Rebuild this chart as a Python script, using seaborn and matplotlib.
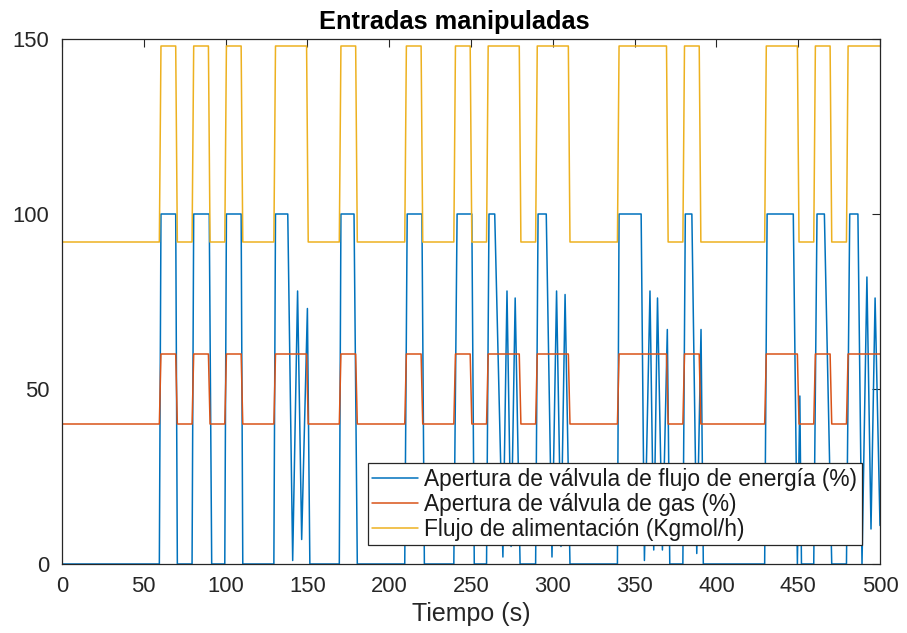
import matplotlib
matplotlib.use("Agg")
import matplotlib.pyplot as plt
import seaborn as sns

# Feed flow and gas valve: step profile (time in s)
tiempo_escalon = [0, 59.5, 60.5, 69.5, 70.5,
                  79.5, 80.5, 89.5, 90.5,
                  99.5, 100.5, 109.5, 110.5,
                  129.5, 130.5, 149.5, 150.5,
                  169.5, 170.5, 179.5, 180.5,
                  209.5, 210.5, 219.5, 220.5,
                  239.5, 240.5, 249.5, 250.5,
                  259.5, 260.5, 279.5, 280.5,
                  289.5, 290.5, 309.5, 310.5,
                  339.5, 340.5, 369.5, 370.5,
                  379.5, 380.5, 389.5, 390.5,
                  429.5, 430.5, 449.5, 450.5,
                  459.5, 460.5, 469.5, 470.5,
                  479.5, 480.5, 500]
flujo_alimentacion = [92, 92, 148, 148, 92,
                      92, 148, 148, 92,
                      92, 148, 148, 92,
                      92, 148, 148, 92,
                      92, 148, 148, 92,
                      92, 148, 148, 92,
                      92, 148, 148, 92,
                      92, 148, 148, 92,
                      92, 148, 148, 92,
                      92, 148, 148, 92,
                      92, 148, 148, 92,
                      92, 148, 148, 92,
                      92, 148, 148, 92,
                      92, 148, 148]
valvula_gas = [40, 40, 60, 60, 40,
               40, 60, 60, 40,
               40, 60, 60, 40,
               40, 60, 60, 40,
               40, 60, 60, 40,
               40, 60, 60, 40,
               40, 60, 60, 40,
               40, 60, 60, 40,
               40, 60, 60, 40,
               40, 60, 60, 40,
               40, 60, 60, 40,
               40, 60, 60, 40,
               40, 60, 60, 40,
               40, 60, 60]

# Energy-flow valve opening (saturated controller output)
tiempo_energia = [0, 59.5, 60.5, 69.5, 70.5,
                  79.5, 80.5, 90, 91.5,
                  99.5, 100.5, 109.5, 110.5,
                  129.5, 130.5, 138, 141, 144, 146.5, 150, 151.5,
                  169.5, 170.5, 178.5, 180.5,
                  209.5, 211, 220, 221.5,
                  239.5, 241.5, 250.5, 252,
                  259.5, 261, 264.5, 269.5, 272, 274.5, 277, 280,
                  289.5, 291, 296, 299.5, 302.3, 305, 307.5, 310.5,
                  339.5, 340.5, 354, 356, 359.4, 361.7, 364, 367, 370, 371.5,
                  379.5, 381, 385, 388, 390.6, 392,
                  429.5, 431, 447, 449.5, 451, 452,
                  459.5, 461.5, 466, 470.5,
                  479.5, 481.5, 486.5, 489, 492, 494.5, 497, 500]
apertura_energia = [0, 0, 100, 100, 0,
                    0, 100, 100, 0,
                    0, 100, 100, 0,
                    0, 100, 100, 1, 78, 7, 73, 0,
                    0, 100, 100, 0,
                    0, 100, 100, 0,
                    0, 100, 100, 0,
                    0, 100, 100, 2, 78, 5, 76, 0,
                    0, 100, 100, 2, 78, 5, 77, 0,
                    0, 100, 100, 1, 78, 4, 76, 4, 67, 0,
                    0, 100, 100, 3, 67, 0,
                    0, 100, 100, 0, 48, 0,
                    0, 100, 100, 0,
                    0, 100, 100, 0, 82, 10, 76, 11]

etiquetas = ["Apertura de válvula de flujo de energía (%)",
             "Apertura de válvula de gas (%)",
             "Flujo de alimentación (Kgmol/h)"]
colores = ["#0072BD", "#D95319", "#EDB120"]

sns.set_theme(style="white")
plt.rcParams["font.family"] = ["Liberation Sans", "DejaVu Sans"]

fig = plt.figure(figsize=(9.07, 6.33), dpi=100)
ax = fig.add_axes([62 / 907, 1 - 564 / 633, 818 / 907, 525 / 633])

sns.lineplot(x=tiempo_energia, y=apertura_energia, ax=ax, estimator=None,
             sort=False, color=colores[0], lw=1.1, label=etiquetas[0])
sns.lineplot(x=tiempo_escalon, y=valvula_gas, ax=ax, estimator=None,
             sort=False, color=colores[1], lw=1.1, label=etiquetas[1])
sns.lineplot(x=tiempo_escalon, y=flujo_alimentacion, ax=ax, estimator=None,
             sort=False, color=colores[2], lw=1.1, label=etiquetas[2])

ax.set_xlim(0, 500)
ax.set_ylim(0, 150)
ax.set_xticks(range(0, 501, 50))
ax.set_yticks([0, 50, 100, 150])
ax.tick_params(direction="in", length=6, width=0.8, colors="#262626",
               labelsize=15.8, top=True, right=True, pad=9)
for s in ax.spines.values():
    s.set_visible(True)
    s.set_color("#262626")
    s.set_linewidth(0.9)

ax.set_title("Entradas manipuladas", fontsize=18.3, fontweight="bold",
             color="#000000", pad=7, x=0.479)
ax.set_xlabel("Tiempo (s)", fontsize=18, color="#262626", labelpad=3)
ax.set_ylabel("")

leg = ax.legend(loc="lower right", bbox_to_anchor=(0.978, 0.036),
                borderaxespad=0, fontsize=16.4, frameon=True, fancybox=False,
                framealpha=1, edgecolor="#262626", handlelength=2.0,
                handletextpad=0.3, borderpad=0.2, labelspacing=0.08)
leg.get_frame().set_linewidth(0.9)
for t in leg.get_texts():
    t.set_color("#1a1a1a")

fig.savefig("out.png", dpi=100)
